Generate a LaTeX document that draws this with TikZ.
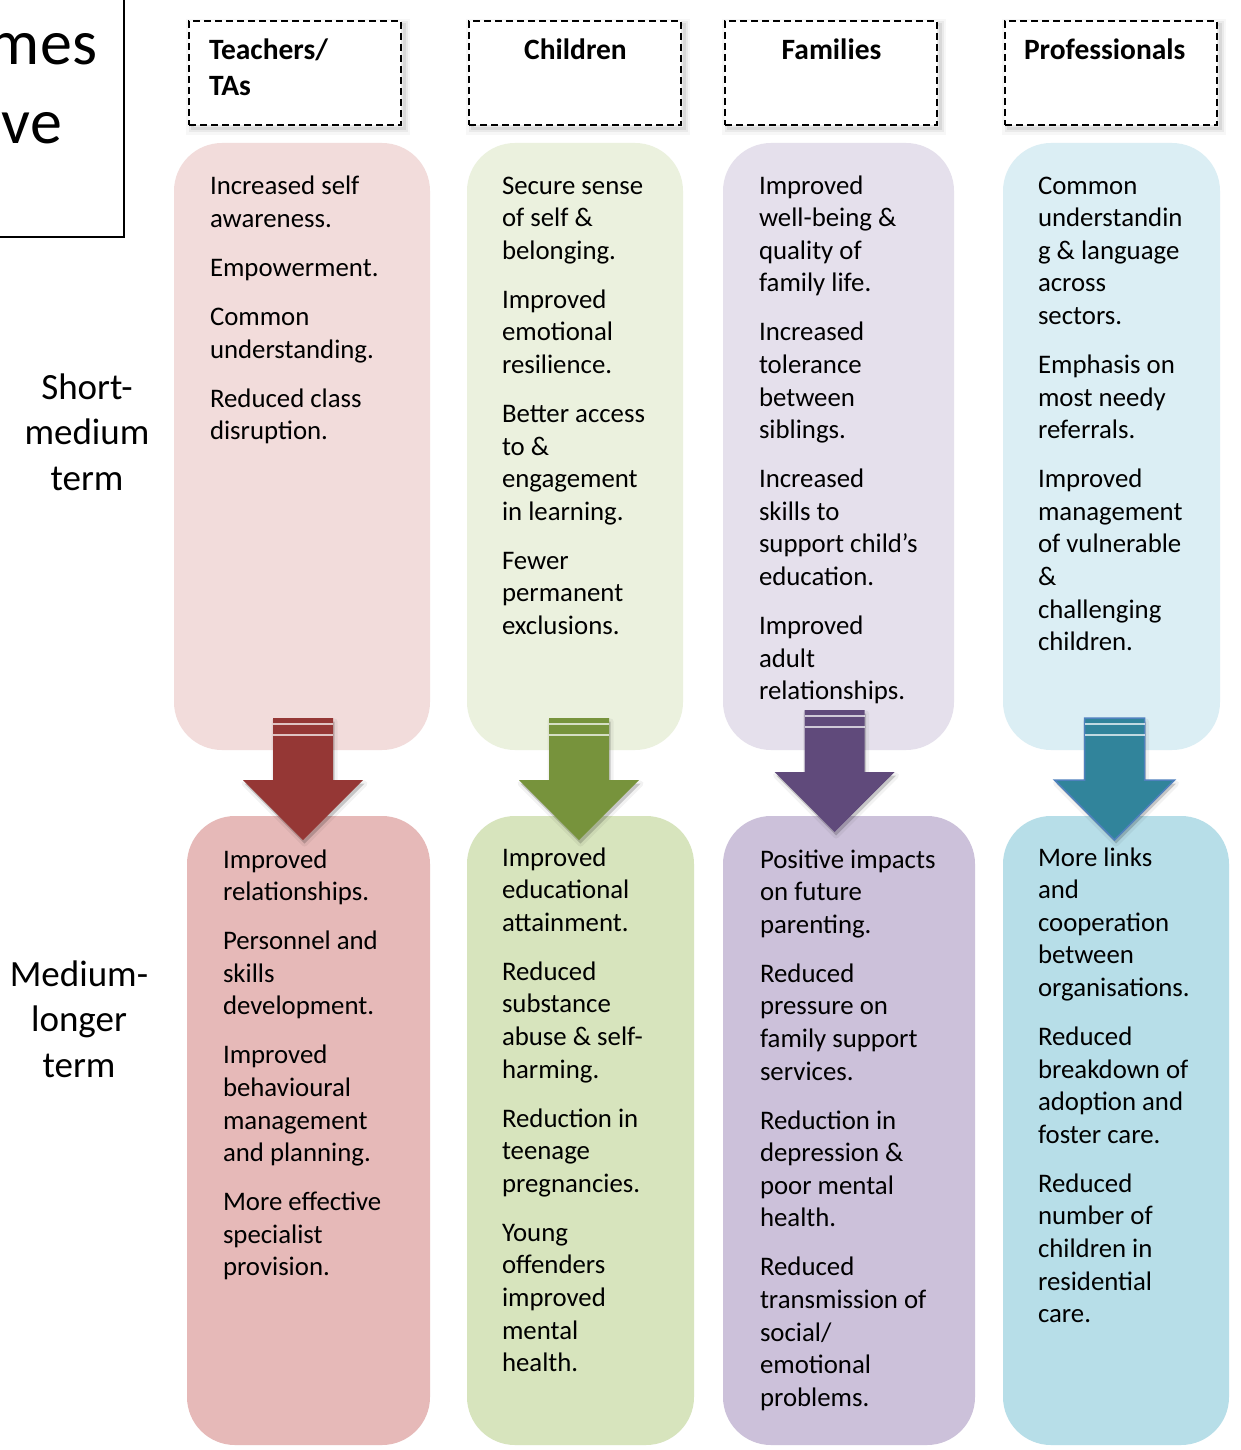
\documentclass[tikz,border=0pt]{standalone}
\usepackage{fontspec}
\setmainfont{Carlito}

% column colours
\definecolor{pinkU}{HTML}{F2DCDB}
\definecolor{pinkL}{HTML}{E6B9B8}
\definecolor{greenU}{HTML}{EBF1DE}
\definecolor{greenL}{HTML}{D7E4BD}
\definecolor{violetU}{HTML}{E5E0EC}
\definecolor{violetL}{HTML}{CCC1DA}
\definecolor{aquaU}{HTML}{DBEEF4}
\definecolor{aquaL}{HTML}{B7DEE8}
\definecolor{redA}{HTML}{953735}
\definecolor{greenA}{HTML}{77933C}
\definecolor{violetA}{HTML}{604A7B}
\definecolor{aquaA}{HTML}{31849B}
\definecolor{aquaEdge}{HTML}{4F81BD}

\newcommand\pgap{\\[16.4pt]}
\newcommand\cellfont{\fontsize{26.8}{32.6}\selectfont}
\newcommand\cells[1]{\parbox[t]{320pt}{\raggedright #1}}

\tikzset{
  every node/.style={inner sep=0pt, outer sep=0pt},
  cell/.style={rounded corners=48pt, anchor=north west},
  celltext/.style={anchor=base west, font=\cellfont},
  headbox/.style={anchor=north west, fill=white, draw=black,
    dash pattern=on 7pt off 4pt, line width=2.3pt,
    minimum width=212pt, minimum height=104pt,
    preaction={draw=black, solid, line width=12pt, opacity=.03,
      transform canvas={shift={(3pt,-4pt)}}},
    preaction={draw=black, solid, line width=7pt, opacity=.05,
      transform canvas={shift={(3pt,-4pt)}}},
    preaction={draw=black, solid, line width=3pt, opacity=.07,
      transform canvas={shift={(3pt,-4pt)}}}},
  headtext/.style={font=\fontsize{29.5}{36}\selectfont\bfseries},
  sidetext/.style={anchor=base, font=\fontsize{37}{45.5}\selectfont},
  arrowbody/.style={
    preaction={draw=black, solid, line width=6pt, opacity=.05, line join=round,
      transform canvas={shift={(1.5pt,-3.5pt)}}},
    preaction={fill=black, opacity=.18,
      transform canvas={shift={(1.5pt,-3.5pt)}}}},
  downblock/.pic={
    \path[pic actions, arrowbody] (-30,0) -- (30,0) -- (30,62) -- (60,62)
      -- (0,122) -- (-60,62) -- (-30,62) -- cycle;
    \draw[white, opacity=.7, line width=1.3pt]
      (-30,6) -- (30,6) (-30,17) -- (30,17);
  }
}

\begin{document}
\begin{tikzpicture}[x=1pt, y=-1pt]
\useasboundingbox (0,0) rectangle (1240,1450);
\clip (0,0) rectangle (1240,1450);
\fill[white] (0,0) rectangle (1240,1450);

% title box, cut by the page edge
\draw[line width=1.6pt] (-20,-20) rectangle (124,237);
\node[anchor=base east, font=\fontsize{64}{70}\selectfont] (t1) at (97,65) {mes};
\node[anchor=base east, font=\fontsize{64}{70}\selectfont] (t2) at (62,144) {ve};

% row labels
\node[sidetext] (s1) at (87,399) {\parbox[t]{200pt}{\centering Short-\\medium\\term}};
\node[sidetext] (s2) at (79,986) {\parbox[t]{200pt}{\centering Medium-\\longer\\term}};

% column headers
\node[headbox] (h1) at (189,21) {};
\node[headbox] (h2) at (469,21) {};
\node[headbox] (h3) at (725,21) {};
\node[headbox] (h4) at (1005,21) {};
\node[headtext, anchor=base west] (ht1) at (209,60) {\parbox[t]{150pt}{\raggedright Teachers/\\TAs}};
\node[headtext, anchor=base] (ht2) at (575.5,60) {Children};
\node[headtext, anchor=base] (ht3) at (831.5,60) {Families};
\node[headtext, anchor=base west] (ht4) at (1024,60) {Professionals};

% short-medium term cells
\node[cell, fill=pinkU,   minimum width=256pt, minimum height=607pt] (u1) at (174,143) {};
\node[cell, fill=greenU,  minimum width=216pt, minimum height=607pt] (u2) at (467,143) {};
\node[cell, fill=violetU, minimum width=231pt, minimum height=607pt] (u3) at (723,143) {};
\node[cell, fill=aquaU,   minimum width=217pt, minimum height=607pt] (u4) at (1003,143) {};

% medium-longer term cells
\node[cell, fill=pinkL,   minimum width=243pt, minimum height=629pt] (l1) at (187,816) {};
\node[cell, fill=greenL,  minimum width=227pt, minimum height=629pt] (l2) at (467,816) {};
\node[cell, fill=violetL, minimum width=252pt, minimum height=629pt] (l3) at (723,816) {};
\node[cell, fill=aquaL,   minimum width=226pt, minimum height=629pt] (l4) at (1003,816) {};

% cell texts
\node[celltext] (tu1) at (210,195) {\cells{Increased self\\awareness.\pgap
Empowerment.\pgap Common\\understanding.\pgap Reduced class\\disruption.}};
\node[celltext] (tu2) at (502,194) {\cells{Secure sense\\of self \&\\belonging.\pgap
Improved\\emotional\\resilience.\pgap Better access\\to \&\\engagement\\in learning.\pgap
Fewer\\permanent\\exclusions.}};
\node[celltext] (tu3) at (759,194) {\cells{Improved\\well-being \&\\quality of\\family life.\pgap
Increased\\tolerance\\between\\siblings.\pgap Increased\\skills to\\support child’s\\education.\pgap
Improved\\adult\\relationships.}};
\node[celltext] (tu4) at (1038,194) {\cells{Common\\understandin\\g \& language\\across\\sectors.\pgap
Emphasis on\\most needy\\referrals.\pgap Improved\\management\\of vulnerable\\\&\\challenging\\children.}};

\node[celltext] (tl1) at (223,868) {\cells{Improved\\relationships.\pgap
Personnel and\\skills\\development.\pgap Improved\\behavioural\\management\\and planning.\pgap
More effective\\specialist\\provision.}};
\node[celltext] (tl2) at (502,866) {\cells{Improved\\educational\\attainment.\pgap
Reduced\\substance\\abuse \& self-\\harming.\pgap Reduction in\\teenage\\pregnancies.\pgap
Young\\offenders\\improved\\mental\\health.}};
\node[celltext] (tl3) at (760,868) {\cells{Positive impacts\\on future\\parenting.\pgap
Reduced\\pressure on\\family support\\services.\pgap Reduction in\\depression \&\\poor mental\\health.\pgap
Reduced\\transmission of\\social/\\emotional\\problems.}};
\node[celltext] (tl4) at (1038,866) {\cells{More links\\and\\cooperation\\between\\organisations.\pgap
Reduced\\breakdown of\\adoption and\\foster care.\pgap Reduced\\number of\\children in\\residential\\care.}};

% block arrows from each short-medium cell to its medium-longer cell
\pic[fill=redA] (a1) at (303,718) {downblock};
\pic[fill=greenA] (a2) at (579,718) {downblock};
\pic[fill=violetA] (a3) at (834.5,710) {downblock};
\pic[fill=aquaA, draw=aquaEdge, line width=1.5pt] (a4) at (1114.5,718) {downblock};
\end{tikzpicture}
\end{document}
